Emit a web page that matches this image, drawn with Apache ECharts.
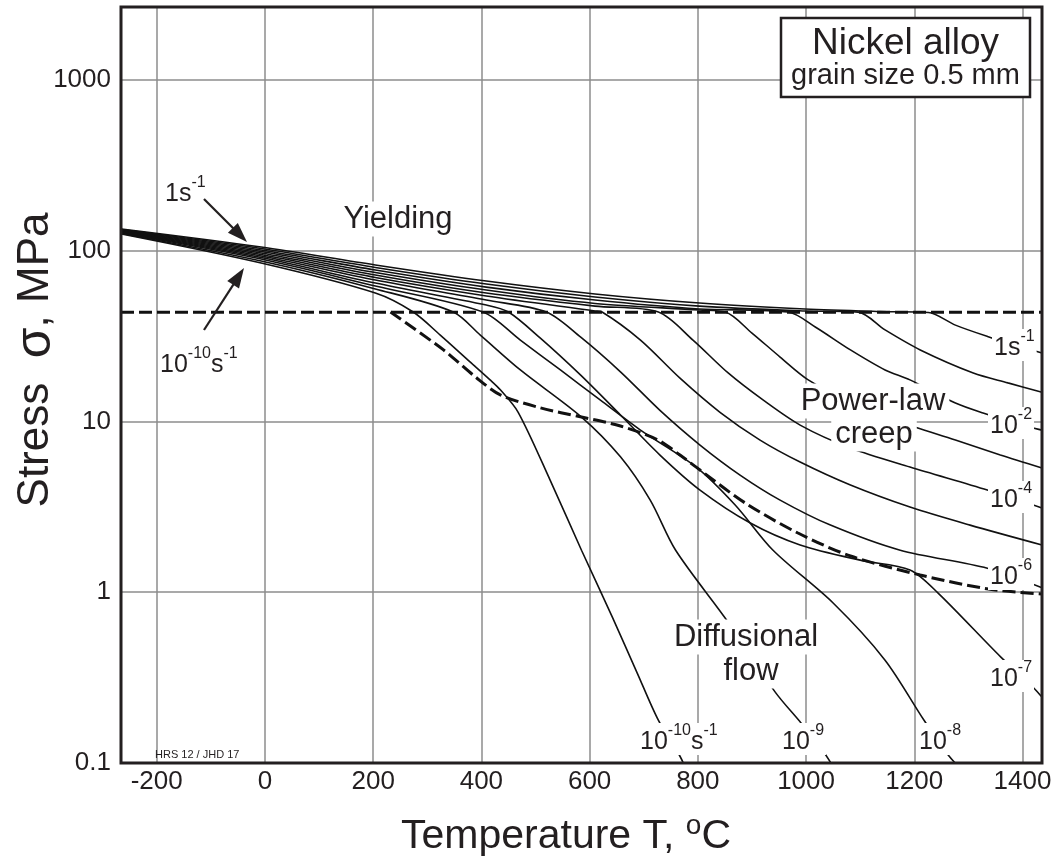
<!DOCTYPE html>
<html><head><meta charset="utf-8">
<script src="https://cdn.jsdelivr.net/npm/echarts@6.0.0/dist/echarts.min.js"></script>
<style>html,body{margin:0;padding:0;background:#fff;}#chart{width:1057px;height:867px;}</style>
</head><body><div id="chart"></div>
<script>
// ---------- data: temperature (°C), stress (MPa) ----------
const xTickValues = [-200, 0, 200, 400, 600, 800, 1000, 1200, 1400];
const yieldLimit = [[-266, 43.5], [1436, 43.5]];
const creepDiffBoundary = [[232,43.66],[330,26.2],[389,18.2],[435,14.3],[509,12.0],[585,10.6],[657,9.39],[727,7.77],[767,6.35],[804,5.19],[888,3.32],[985,2.22],[1082,1.63],[1211,1.26],[1340,1.04],[1436,0.975]];
const rate1e0 = [[-265,133.7],[-7,104.9],[204,82.3],[409,66.3],[610,55.7],[803,49.3],[998,45.5],[1137,44.0],[1226,43.4],[1276,36.6],[1338,31.2],[1386,28.0],[1436,25.1]];
const rate1e1 = [[-265,132.8],[-7,102.8],[204,79.6],[409,63.7],[610,53.5],[803,47.3],[998,44.3],[1096,43.6],[1146,34.3],[1211,26.2],[1309,19.2],[1373,16.8],[1436,14.8]];
const rate1e2 = [[-265,131.9],[-7,100.7],[204,76.9],[409,61.1],[610,51.3],[803,45.5],[967,43.66],[1017,35.7],[1082,26.2],[1146,20.0],[1192,17.5],[1276,12.8],[1327,11.2],[1412,9.26],[1436,8.89]];
const rate1e3 = [[-265,131.0],[-7,98.7],[204,74.4],[409,58.7],[610,49.0],[803,44.9],[851,43.66],[900,32.9],[952,23.8],[1004,17.5],[1082,13.0],[1174,9.91],[1276,7.77],[1359,6.35],[1436,5.33]];
const rate1e4 = [[-265,130.1],[-7,96.7],[204,71.9],[409,56.4],[610,47.3],[727,43.66],[791,29.9],[856,19.2],[921,13.3],[989,9.51],[1082,6.98],[1192,5.40],[1335,3.96],[1436,3.11]];
const rate1e5 = [[-265,129.3],[-7,94.8],[204,69.5],[409,54.2],[610,44.3],[623,43.66],[694,29.9],[767,17.9],[841,11.3],[915,7.77],[989,5.78],[1082,4.24],[1192,3.15],[1303,2.47],[1436,1.89]];
const rate1e6 = [[-265,128.4],[-7,92.9],[204,67.2],[409,51.3],[520,43.66],[583,31.2],[657,19.5],[730,11.6],[804,7.27],[878,4.85],[952,3.46],[1045,2.47],[1174,1.76],[1335,1.38],[1436,1.06]];
const rate1e7 = [[-265,127.5],[-7,91.0],[204,64.5],[409,48.0],[450,43.66],[509,30.7],[583,18.7],[657,10.9],[730,6.35],[804,3.96],[897,2.54],[989,1.89],[1100,1.54],[1192,1.35],[1244,0.988],[1360,0.417],[1412,0.294],[1436,0.243]];
const rate1e8 = [[-265,126.7],[-7,89.2],[204,62.0],[403,43.66],[472,29.9],[546,20.0],[620,13.3],[694,8.89],[797,5.40],[869,3.24],[939,1.76],[1050,0.864],[1146,0.400],[1218,0.178],[1263,0.111],[1288,0.091]];
const rate1e9 = [[-265,125.8],[-7,86.8],[204,59.6],[348,43.66],[398,32.0],[472,20.0],[585,10.6],[657,6.2],[712,3.46],[759,1.76],[856,0.668],[943,0.260],[991,0.171],[1030,0.119],[1054,0.091]];
const rate1e10 = [[-265,125.0],[-7,84.5],[204,56.4],[274,43.66],[324,32.0],[379,22.3],[416,17.5],[435,15.3],[468,11.3],[527,4.53],[585,1.76],[642,0.715],[688,0.336],[727,0.178],[766,0.111],[779,0.091]];
const rateNames = ['1', '1e-1', '1e-2', '1e-3', '1e-4', '1e-5', '1e-6', '1e-7', '1e-8', '1e-9', '1e-10'];
const rateCurves = [rate1e0, rate1e1, rate1e2, rate1e3, rate1e4, rate1e5, rate1e6, rate1e7, rate1e8, rate1e9, rate1e10];

// ---------- styling ----------
const FF = "'Liberation Sans', Arial, Helvetica, sans-serif";
const INK = '#231f20';
const GRIDC = '#8c8c8c';

const chart = echarts.init(document.getElementById('chart'), null, {renderer: 'canvas'});

const series = rateCurves.map((d, i) => ({
  name: rateNames[i], type: 'line', data: d, showSymbol: false, symbol: 'none',
  smooth: 0.3, silent: true, clip: true, z: 3,
  lineStyle: {color: '#111', width: 1.6}
}));
series.push({name: 'yield', type: 'line', data: yieldLimit, showSymbol: false, symbol: 'none', silent: true, z: 4,
  lineStyle: {color: '#111', width: 3, type: [13, 5]}});
series.push({name: 'boundary', type: 'line', data: creepDiffBoundary, showSymbol: false, symbol: 'none', silent: true, z: 4,
  smooth: 0.3, clip: true,
  lineStyle: {color: '#111', width: 3, type: [13, 5]}});

function txt(x, y, text, size, extra) {
  return {type: 'text', x: x, y: y, z: 30, silent: true,
    style: Object.assign({text: text, fontFamily: FF, fontSize: size, fill: INK,
      align: 'center', verticalAlign: 'middle', textAlign: 'center', textVerticalAlign: 'middle'}, extra || {})};
}
function supLabel(x, y, text, align) {
  return {type: 'text', x: x, y: y, z: 30, silent: true,
    style: {text: text, fontFamily: FF, fill: INK, align: align || 'left', verticalAlign: 'middle',
      textAlign: align || 'left', textVerticalAlign: 'middle',
      backgroundColor: '#fff', padding: [0, 2, 0, 2],
      rich: {
        b: {fontSize: 25, lineHeight: 32, verticalAlign: 'bottom', fontFamily: FF, fill: INK},
        s: {fontSize: 16, lineHeight: 10, verticalAlign: 'top', fontFamily: FF, fill: INK}
      }}};
}
function arrow(x1, y1, x2, y2) {
  const L = 20, W = 7;
  const dx = x2 - x1, dy = y2 - y1, d = Math.hypot(dx, dy), ux = dx / d, uy = dy / d;
  const bx = x2 - ux * L, by = y2 - uy * L;
  return [
    {type: 'line', z: 30, silent: true, shape: {x1: x1, y1: y1, x2: bx + ux * 3, y2: by + uy * 3}, style: {stroke: INK, lineWidth: 2.2}},
    {type: 'polygon', z: 30, silent: true, shape: {points: [[x2, y2], [bx - uy * W, by + ux * W], [bx + uy * W, by - ux * W]]}, style: {fill: INK}}
  ];
}

const graphics = [
  {type: 'rect', z: 25, silent: true, shape: {x: 121, y: 7, width: 921, height: 756}, style: {fill: 'none', stroke: INK, lineWidth: 3}},
  {type: 'rect', z: 28, silent: true, shape: {x: 781, y: 18, width: 249, height: 79}, style: {fill: '#fff', stroke: INK, lineWidth: 2.5}},
  txt(905.5, 44, 'Nickel alloy', 37),
  txt(905.5, 76, 'grain size 0.5 mm', 29),
  txt(398, 219, 'Yielding', 31, {backgroundColor: '#fff', padding: [2, 4, 2, 4]}),
  txt(873, 401, 'Power-law', 31, {backgroundColor: '#fff', padding: [2, 4, 2, 4]}),
  txt(874, 434, 'creep', 31, {backgroundColor: '#fff', padding: [2, 4, 2, 4]}),
  txt(746, 637, 'Diffusional', 31, {backgroundColor: '#fff', padding: [2, 4, 2, 4]}),
  txt(751, 671, 'flow', 31, {backgroundColor: '#fff', padding: [2, 4, 2, 4]}),
  supLabel(163, 191, '{b|1s}{s|-1}'),
  supLabel(158, 362, '{b|10}{s|-10}{b|s}{s|-1}'),
  supLabel(992, 345, '{b|1s}{s|-1}'),
  supLabel(988, 423, '{b|10}{s|-2}'),
  supLabel(988, 497, '{b|10}{s|-4}'),
  supLabel(988, 574, '{b|10}{s|-6}'),
  supLabel(988, 676, '{b|10}{s|-7}'),
  supLabel(638, 739, '{b|10}{s|-10}{b|s}{s|-1}'),
  supLabel(780, 739, '{b|10}{s|-9}'),
  supLabel(917, 739, '{b|10}{s|-8}'),
  txt(155, 755, 'HRS 12 / JHD 17', 11, {align: 'left', textAlign: 'left'}),
  {type: 'text', x: 566, y: 837, z: 30, silent: true,
    style: {text: '{a|Temperature T, }{s|o}{a|C}', align: 'center', verticalAlign: 'middle', textAlign: 'center', textVerticalAlign: 'middle',
      rich: {a: {fontSize: 41, lineHeight: 50, fontFamily: FF, fill: INK},
             s: {fontSize: 28, lineHeight: 28, verticalAlign: 'top', fontFamily: FF, fill: INK}}}},
  {type: 'text', x: 36, y: 360, z: 30, silent: true, rotation: Math.PI / 2,
    style: {text: '{a|Stress  }{g|σ}{a|, MPa}', align: 'center', verticalAlign: 'middle', textAlign: 'center', textVerticalAlign: 'middle',
      rich: {a: {fontSize: 44, lineHeight: 50, fontFamily: FF, fill: INK},
             g: {fontSize: 50, lineHeight: 50, fontFamily: FF, fill: INK}}}}
].concat(arrow(204, 199, 247, 242), arrow(204, 330, 244, 268));

chart.setOption({
  animation: false,
  backgroundColor: '#fff',
  grid: {left: 121, top: 7, width: 921, height: 756, containLabel: false},
  xAxis: {
    type: 'value', min: -266, max: 1436,
    axisLine: {show: false}, axisTick: {show: false, customValues: xTickValues},
    axisLabel: {customValues: xTickValues, fontSize: 26, color: INK, fontFamily: FF, margin: 6,
      formatter: function (v) { return String(v); }},
    splitLine: {show: true, lineStyle: {color: GRIDC, width: 1.5}}
  },
  yAxis: {
    type: 'log', logBase: 10, min: 0.1, max: 2666,
    axisLine: {show: false}, axisTick: {show: false},
    axisLabel: {fontSize: 26, color: INK, fontFamily: FF, margin: 10,
      formatter: function (v) {
        const l = Math.log10(v);
        return Math.abs(l - Math.round(l)) < 1e-6 ? String(+v.toPrecision(3)) : '';
      }},
    splitLine: {show: true, lineStyle: {color: GRIDC, width: 1.5}}
  },
  series: series,
  graphic: {elements: graphics}
});
</script></body></html>
